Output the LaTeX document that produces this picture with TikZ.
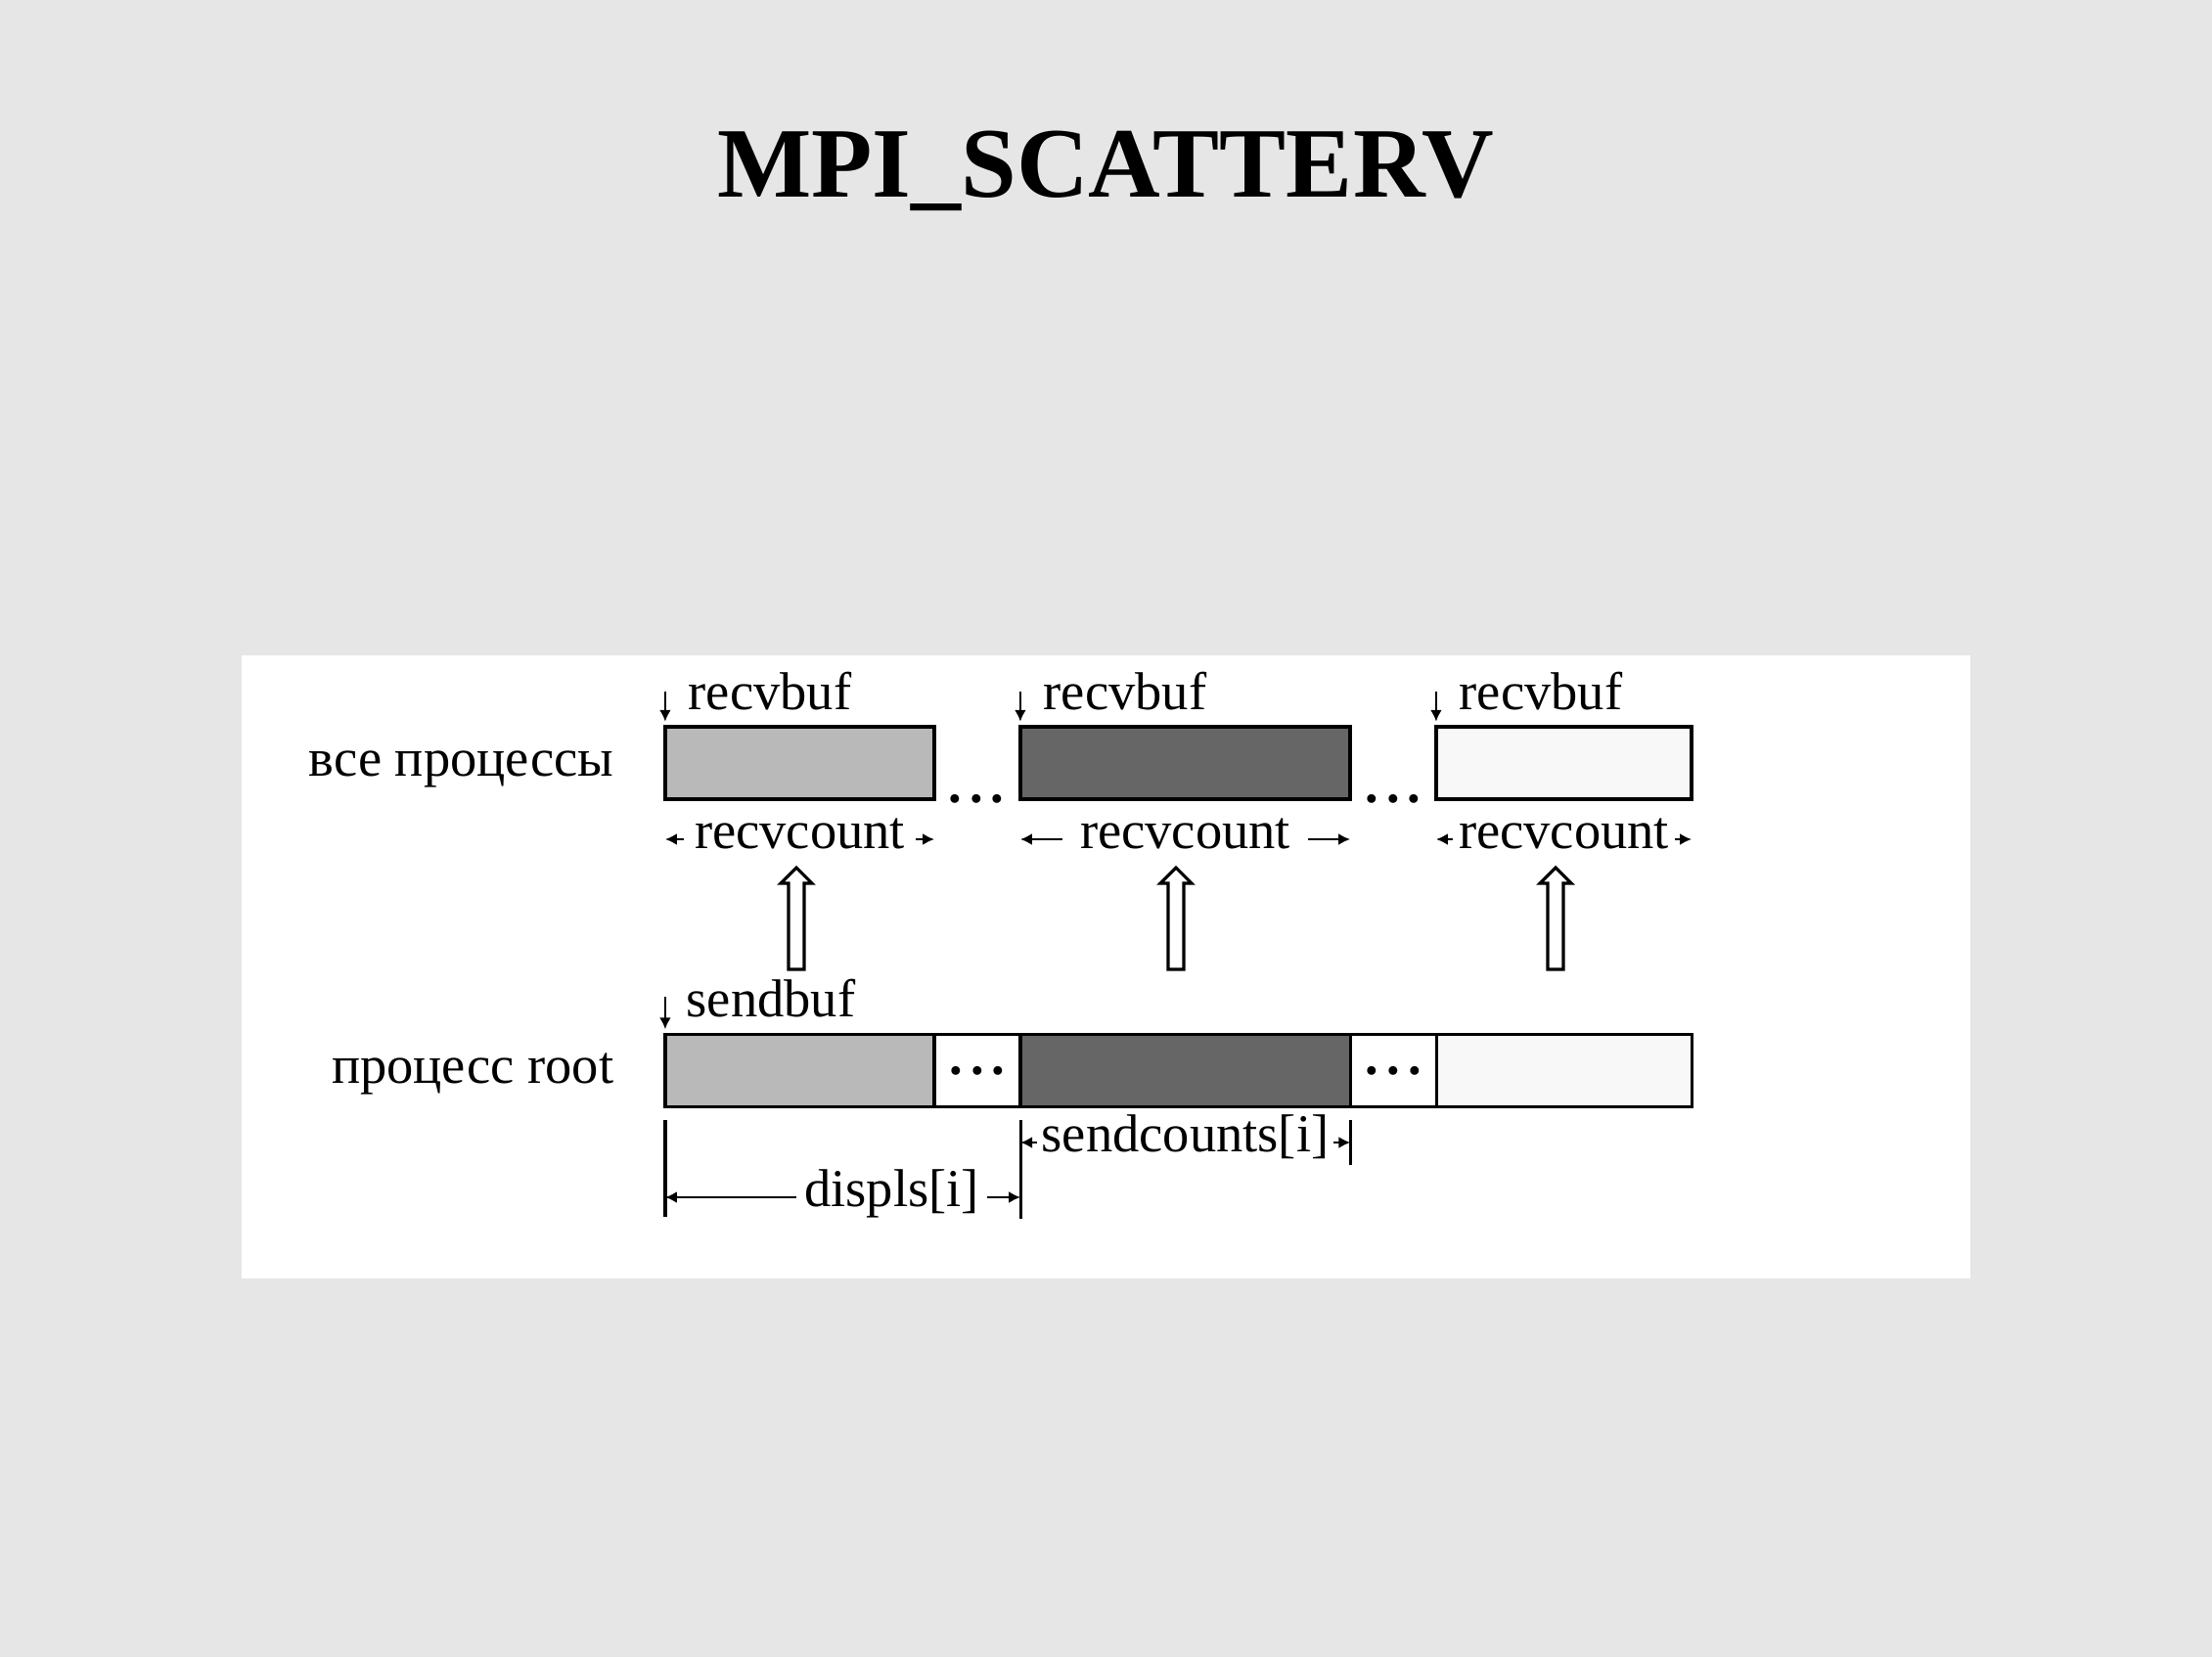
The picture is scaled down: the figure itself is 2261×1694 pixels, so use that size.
\documentclass[tikz,border=0pt]{standalone}
\usepackage{fontspec}
\setmainfont{Liberation Serif}
\usetikzlibrary{positioning}
\usetikzlibrary{arrows.meta}
\definecolor{slidebg}{HTML}{E6E6E6}
\definecolor{part1}{HTML}{B9B9B9}
\definecolor{part2}{HTML}{666666}
\definecolor{part3}{HTML}{F8F8F8}

\begin{document}
\begin{tikzpicture}[x=0.01cm, y=-0.01cm,
        seg/.style={draw, line width=1pt, minimum height=0.74cm, inner sep=0pt, outer sep=0pt},
        lab/.style={inner sep=0pt, text height=1.8mm, text depth=0pt, font=\fontsize{15.5}{18}\selectfont},
        gap/.style={font=\bfseries\fontsize{15.5}{18}\selectfont},
        arr/.style={line width=0.8pt, -{Latex[length=3.4pt,width=3.4pt]}},
        tick/.style={line width=0.9pt},
        hollow/.style={draw, fill=white, line width=0.9pt}]
        %slide
        \fill[slidebg] (0,0) rectangle (2261,1694);
        \fill[white] (247,670) rectangle (2014,1307);
        \node[anchor=base, inner sep=0pt, font=\bfseries\fontsize{29}{34}\selectfont] (title) at (1130,202) {MPI\_SCATTERV};
        %all processes
        \node[lab, anchor=base east] (all) at (628,793) {все процессы};
        \node[seg, fill=part1, minimum width=2.75cm] (r1) at (817.5,780) {};
        \node[seg, fill=part2, minimum width=3.37cm] (r2) at (1211.5,780) {};
        \node[seg, fill=part3, minimum width=2.61cm] (r3) at (1598.5,780) {};
        \node[lab, gap, anchor=base] (g1) at (998,820) {.\kern2.3pt.\kern2.3pt.};
        \node[lab, gap, anchor=base] (g2) at (1424,820) {.\kern2.3pt.\kern2.3pt.};
        \node[lab, anchor=base west] (rb1) at (703,725) {recvbuf};
        \node[lab, anchor=base west] (rb2) at (1066,725) {recvbuf};
        \node[lab, anchor=base west] (rb3) at (1491,725) {recvbuf};
        \draw[arr, shorten >=1.5pt] ([yshift=0.36cm]r1.north west) -- (r1.north west);
        \draw[arr, shorten >=1.5pt] ([yshift=0.36cm]r2.north west) -- (r2.north west);
        \draw[arr, shorten >=1.5pt] ([yshift=0.36cm]r3.north west) -- (r3.north west);
        \node[lab, anchor=base] (c1) at (817.5,867) {recvcount};
        \node[lab, anchor=base] (c2) at (1211.5,867) {recvcount};
        \node[lab, anchor=base] (c3) at (1598.5,867) {recvcount};
        \draw[arr] ([xshift=-3pt]c1.west) -- (c1.west -| r1.west);
        \draw[arr] ([xshift=3pt]c1.east) -- (c1.east -| r1.east);
        \draw[arr] ([xshift=-5pt]c2.west) -- (c2.west -| r2.west);
        \draw[arr] ([xshift=5pt]c2.east) -- (c2.east -| r2.east);
        \draw[arr] ([xshift=-1.5pt]c3.west) -- (c3.west -| r3.west);
        \draw[arr] ([xshift=1.5pt]c3.east) -- (c3.east -| r3.east);
        %scatter arrows
        \coordinate (u1) at (814,991);
        \coordinate (u2) at (1202,991);
        \coordinate (u3) at (1590,991);
        \draw[hollow] (u1) ++(-8,0) -- ++(0,-88) -- ++(-8,0) -- ++(16,-16) -- ++(16,16) -- ++(-8,0) -- ++(0,88) -- cycle;
        \draw[hollow] (u2) ++(-8,0) -- ++(0,-88) -- ++(-8,0) -- ++(16,-16) -- ++(16,16) -- ++(-8,0) -- ++(0,88) -- cycle;
        \draw[hollow] (u3) ++(-8,0) -- ++(0,-88) -- ++(-8,0) -- ++(16,-16) -- ++(16,16) -- ++(-8,0) -- ++(0,88) -- cycle;
        %root process
        \node[lab, anchor=base east] (root) at (628,1107) {процесс root};
        \node[seg, fill=part1, minimum width=2.75cm] (s1) at (817.5,1094.5) {};
        \node[seg, gap, fill=white, minimum width=0.88cm, right=0pt of s1] (d1) {.\kern2.3pt.\kern2.3pt.};
        \node[seg, fill=part2, minimum width=3.37cm, right=0pt of d1] (s2) {};
        \node[seg, gap, fill=white, minimum width=0.88cm, right=0pt of s2] (d2) {.\kern2.3pt.\kern2.3pt.};
        \node[seg, fill=part3, minimum width=2.61cm, right=0pt of d2] (s3) {};
        \node[lab, anchor=base west] (sb) at (701,1039) {sendbuf};
        \draw[arr, shorten >=1.5pt] ([yshift=0.38cm]s1.north west) -- (s1.north west);
        %counts
        \draw[tick] ([yshift=-0.13cm]s1.south west) -- ++(0,99);
        \draw[tick] ([yshift=-0.13cm]s2.south west) -- ++(0,101);
        \draw[tick] ([yshift=-0.13cm]s2.south east) -- ++(0,46);
        \node[lab, anchor=base] (sc) at (1211.5,1177) {sendcounts[i]};
        \draw[arr] ([xshift=-1pt]sc.west) -- (sc.west -| s2.west);
        \draw[arr] ([xshift=1pt]sc.east) -- (sc.east -| s2.east);
        \node[lab, anchor=base] (dp) at (911.5,1233) {displs[i]};
        \draw[arr] ([xshift=-2pt]dp.west) -- (dp.west -| s1.west);
        \draw[arr] ([xshift=2pt]dp.east) -- (dp.east -| s2.west);
    \end{tikzpicture}
\end{document}
